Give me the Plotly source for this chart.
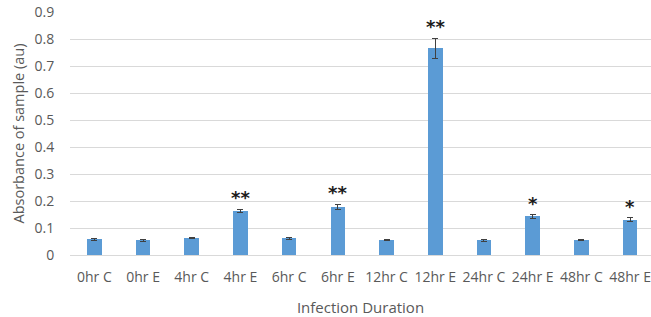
import plotly.graph_objects as go

categories = ["0hr C", "0hr E", "4hr C", "4hr E", "6hr C", "6hr E",
              "12hr C", "12hr E", "24hr C", "24hr E", "48hr C", "48hr E"]
values = [0.058, 0.055, 0.063, 0.163, 0.062, 0.179, 0.055, 0.766, 0.055, 0.143, 0.055, 0.131]
errors = [0.004, 0.004, 0.003, 0.007, 0.004, 0.009, 0.003, 0.037, 0.004, 0.007, 0.002, 0.007]
significance = ["", "", "", "**", "", "**", "", "**", "", "*", "", "*"]
y_ticks = [0, 0.1, 0.2, 0.3, 0.4, 0.5, 0.6, 0.7, 0.8, 0.9]
y_tick_labels = ["0", "0.1", "0.2", "0.3", "0.4", "0.5", "0.6", "0.7", "0.8", "0.9"]

font_family = "Open Sans, Liberation Sans, sans-serif"

fig = go.Figure()
fig.add_trace(go.Bar(
    x=list(range(len(categories))),
    y=values,
    width=0.3,
    marker=dict(color="#5b9bd5", line=dict(width=0)),
    error_y=dict(type="data", array=errors, visible=True,
                 color="#404040", thickness=1, width=3),
))

for i, (v, e, s) in enumerate(zip(values, errors, significance)):
    if s:
        fig.add_annotation(x=i, y=v + e, text="<b>" + s + "</b>", showarrow=False,
                           yanchor="bottom", yshift=-1,
                           font=dict(family="DejaVu Sans, sans-serif", size=18, color="#1a1a1a"))

fig.update_layout(
    width=651, height=317,
    margin=dict(l=70, r=0, t=12, b=62),
    paper_bgcolor="white", plot_bgcolor="white",
    showlegend=False,
    font=dict(family=font_family, size=14, color="#595959"),
    bargap=0,
)
fig.update_xaxes(
    range=[-0.5, 11.43],
    tickmode="array", tickvals=list(range(len(categories))), ticktext=categories,
    ticks="outside", ticklen=9, tickcolor="rgba(0,0,0,0)",
    showgrid=False, zeroline=False, showline=False,
    tickfont=dict(size=14, color="#595959"),
    title=dict(text="Infection Duration", font=dict(size=15, color="#595959"), standoff=18),
)
fig.update_yaxes(
    range=[0, 0.9],
    tickmode="array", tickvals=y_ticks, ticktext=y_tick_labels,
    ticks="outside", ticklen=12, tickcolor="rgba(0,0,0,0)",
    showgrid=True, gridcolor="#d9d9d9", gridwidth=1,
    zeroline=True, zerolinecolor="#d9d9d9", zerolinewidth=1,
    showline=False,
    tickfont=dict(size=14, color="#595959"),
    title=dict(text="Absorbance of sample (au)", font=dict(size=14.5, color="#595959"), standoff=6),
)

fig.write_html("out.html", config={"displayModeBar": False},
               post_script="document.body.style.margin='0';document.body.style.overflow='hidden';")
